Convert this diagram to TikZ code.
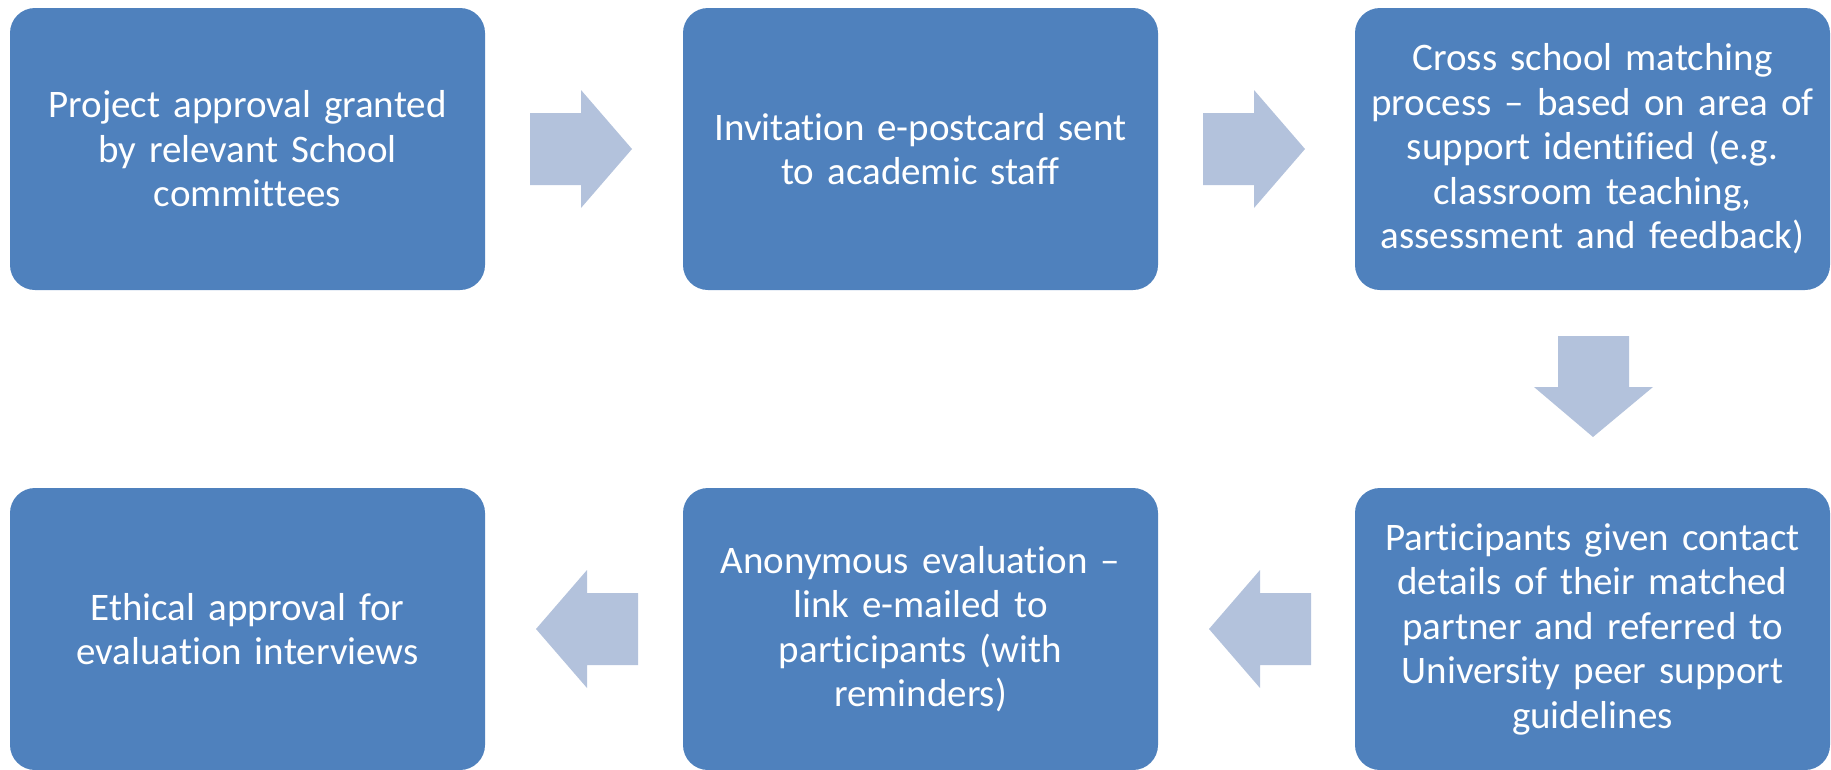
\documentclass[tikz,border=0pt]{standalone}
\usepackage{fontspec}
\setmainfont{Carlito}[Ligatures=NoCommon]
\definecolor{boxblue}{RGB}{79,129,189}
\definecolor{arrowblue}{RGB}{179,194,220}
\begin{document}
\begin{tikzpicture}[x=1pt,y=-1pt,
  stepbox/.style={fill=boxblue, draw=none, rounded corners=25pt, minimum width=475pt, minimum height=282pt,
    text width=465pt, align=center, text=white, inner sep=0pt,
    font=\fontsize{39pt}{44.5pt}\selectfont},
  blockarrow/.style={fill=arrowblue, draw=none}]
\useasboundingbox (0,0) rectangle (1831,769);
\node[stepbox] (b1) at (247.5,149) {Project approval granted\\by relevant School\\committees};
\node[stepbox] (b2) at (920.5,149) {Invitation e-postcard sent\\to academic staff};
\node[stepbox] (b3) at (1592.5,149) {Cross school matching\\process – based on area of\\support identified (e.g.\\classroom teaching,\\assessment and feedback)};
\node[stepbox] (b4) at (1592.5,629) {Participants given contact\\details of their matched\\partner and referred to\\University peer support\\guidelines};
\node[stepbox] (b5) at (920.5,629) {Anonymous evaluation –\\link e-mailed to\\participants (with\\reminders)};
\node[stepbox] (b6) at (247.5,629) {Ethical approval for\\evaluation interviews};
% right arrows
\fill[blockarrow] (530,113) -- (581,113) -- (581,90) -- (632,149) -- (581,208) -- (581,185) -- (530,185) -- cycle;
\fill[blockarrow] (1203,113) -- (1254,113) -- (1254,90) -- (1305,149) -- (1254,208) -- (1254,185) -- (1203,185) -- cycle;
% down arrow
\fill[blockarrow] (1558,336) -- (1629,336) -- (1629,387) -- (1653,387) -- (1593,437) -- (1534,387) -- (1558,387) -- cycle;
% left arrows
\fill[blockarrow] (1311,593) -- (1260,593) -- (1260,570) -- (1209,629) -- (1260,688) -- (1260,665) -- (1311,665) -- cycle;
\fill[blockarrow] (638,593) -- (587,593) -- (587,570) -- (536,629) -- (587,688) -- (587,665) -- (638,665) -- cycle;
\end{tikzpicture}
\end{document}
